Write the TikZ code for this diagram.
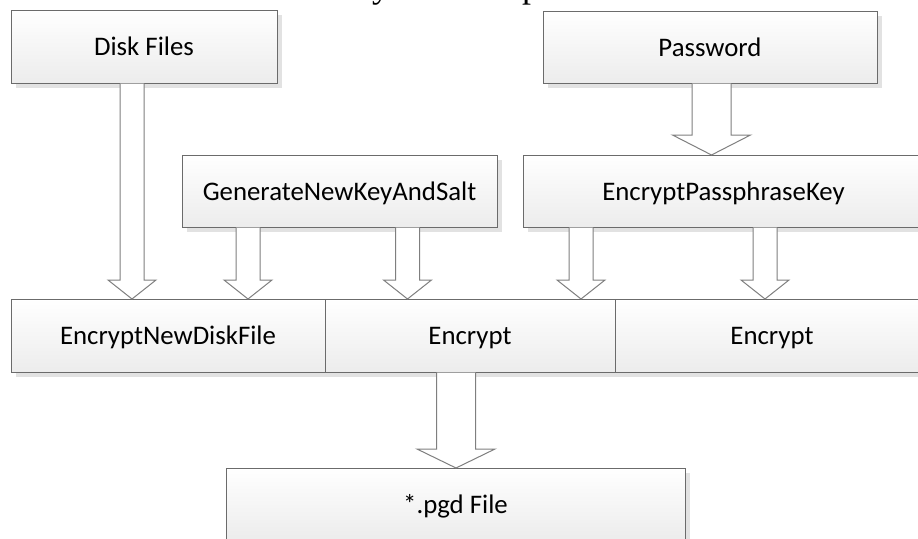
\documentclass[tikz,border=0pt]{standalone}
\usepackage{fontspec}
\setmainfont{Carlito}
\newfontfamily\captionserif{Liberation Serif}
\usetikzlibrary{calc,shadows}

\definecolor{boxedge}{HTML}{6B6B6B}
\definecolor{boxfoot}{HTML}{ECECEC}
\definecolor{shadowgray}{HTML}{E2E2E2}
\definecolor{arrowedge}{HTML}{7F7F7F}

\tikzset{
  box/.style={draw=boxedge, line width=1pt, top color=white, bottom color=boxfoot,
    inner sep=0pt, outer sep=0pt, text height=18pt, text depth=0pt,
    font=\fontsize{26.8}{32}\selectfont,
    general shadow={fill=shadowgray, shadow xshift=5pt, shadow yshift=-5pt}},
  blockarrow/.style={draw=arrowedge, line width=1pt, fill=white, line join=miter},
  captionfrag/.style={font=\captionserif\fontsize{36}{40}\selectfont,
    anchor=base west, inner sep=0pt}
}

% hollow block arrow: #1 x position, #2 source node, #3 target node,
% #4 half shaft width, #5 half head width, #6 head length
\newcommand\fatarrow[6]{%
  \coordinate (fa) at (#1,0);
  \path[blockarrow]
    ($(fa |- #2.south)+(-#4,0.5)$) -- ($(fa |- #3.north)+(-#4,-#6)$)
    -- ($(fa |- #3.north)+(-#5,-#6)$) -- (fa |- #3.north)
    -- ($(fa |- #3.north)+(#5,-#6)$) -- ($(fa |- #3.north)+(#4,-#6)$)
    -- ($(fa |- #2.south)+(#4,0.5)$);
}

\begin{document}
\begin{tikzpicture}[x=1pt, y=-1pt]
  \useasboundingbox (0,0) rectangle (918,538);
  \clip (0,0) rectangle (918,538);

  % descenders of the caption line above
  \node[captionfrag] (capy) at (372,-2.5) {y};
  \node[captionfrag] (capp) at (522,-2.5) {p};

  % inputs
  \node[box, minimum width=266pt, minimum height=73pt] (disk) at (144,46.5) {Disk Files};
  \node[box, minimum width=334pt, minimum height=72pt] (pwd) at (710,47) {Password};

  % key stage
  \node[box, minimum width=315pt, minimum height=72pt] (genkey) at (339.5,191) {GenerateNewKeyAndSalt};
  \node[box, minimum width=401pt, minimum height=72pt] (passkey) at (723.5,191) {EncryptPassphraseKey};

  % encryption row
  \node[box, minimum width=314pt, minimum height=73pt] (newdisk) at (168,335.5) {EncryptNewDiskFile};
  \node[box, minimum width=290pt, minimum height=73pt] (enc1) at (470,335.5) {Encrypt};
  \node[box, minimum width=314pt, minimum height=73pt] (enc2) at (772,335.5) {Encrypt};

  % output
  \node[box, minimum width=459pt, minimum height=72pt] (pgd) at (455.5,504) {*.pgd File};

  % data flow
  \fatarrow{132}{disk}{newdisk}{12}{24}{19}
  \fatarrow{711.5}{pwd}{passkey}{19.5}{39}{20}
  \fatarrow{248}{genkey}{newdisk}{12}{24}{19}
  \fatarrow{407.5}{genkey}{enc1}{12}{24}{19}
  \fatarrow{581}{passkey}{enc1}{12}{24}{19}
  \fatarrow{765}{passkey}{enc2}{12}{24}{19}
  \fatarrow{456}{enc1}{pgd}{19.5}{39}{19}
\end{tikzpicture}
\end{document}
